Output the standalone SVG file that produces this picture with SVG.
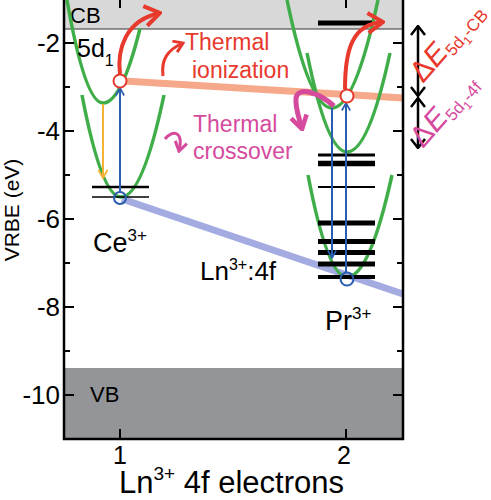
<svg xmlns="http://www.w3.org/2000/svg" width="491" height="500" viewBox="0 0 491 500">
<style>
text{font-family:"Liberation Sans",Arial,Helvetica,sans-serif;fill:#000}
.g{fill:none;stroke:#3fae49;stroke-width:3.5;stroke-linecap:butt}
.lv{stroke:#000}
.ax{stroke:#000;stroke-width:2.5;fill:none}
.tk{stroke:#000;stroke-width:2}
.bl{stroke:#2a5db0;stroke-width:2;fill:none}
.rd{fill:#e8392d}
.mg{fill:#d64a9e}
.tl{font-size:26px;text-anchor:end}
</style>
<defs>
<marker id="mBlue" viewBox="0 0 12 12" refX="11" refY="6" markerWidth="10" markerHeight="10" orient="auto" markerUnits="userSpaceOnUse"><path d="M2,1 L11,6 L2,11" fill="none" stroke="#2a5db0" stroke-width="2"/></marker>
<marker id="mYel" viewBox="0 0 12 12" refX="11" refY="6" markerWidth="11" markerHeight="11" orient="auto" markerUnits="userSpaceOnUse"><path d="M2,1 L11,6 L2,11" fill="none" stroke="#f5b335" stroke-width="2"/></marker>
<marker id="mRed" viewBox="0 0 20 24" refX="18" refY="12" markerWidth="20" markerHeight="24" orient="auto" markerUnits="userSpaceOnUse"><path d="M3,2 L18,12 L3,22" fill="none" stroke="#e8392d" stroke-width="4"/></marker>
<marker id="mRedS" viewBox="0 0 14 14" refX="12" refY="7" markerWidth="14" markerHeight="14" orient="auto" markerUnits="userSpaceOnUse"><path d="M3,1 L12,7 L3,13" fill="none" stroke="#e8392d" stroke-width="3"/></marker>
<marker id="mMag" viewBox="0 0 18 20" refX="16" refY="10" markerWidth="18" markerHeight="20" orient="auto" markerUnits="userSpaceOnUse"><path d="M3,2 L16,10 L3,18" fill="none" stroke="#d64a9e" stroke-width="4.5"/></marker>
<marker id="mMagS" viewBox="0 0 14 14" refX="12" refY="7" markerWidth="14" markerHeight="14" orient="auto" markerUnits="userSpaceOnUse"><path d="M3,1 L12,7 L3,13" fill="none" stroke="#d64a9e" stroke-width="3"/></marker>
<marker id="mBlk" viewBox="0 0 12 16" refX="11" refY="8" markerWidth="12" markerHeight="16" orient="auto-start-reverse" markerUnits="userSpaceOnUse"><path d="M2,1 L11,8 L2,15" fill="none" stroke="#000" stroke-width="2.5"/></marker>
</defs>

<g id="bands">
<rect x="64" y="0" width="339" height="29" fill="#d8d8d8"/>
<line x1="64" y1="29" x2="403" y2="29" stroke="#333" stroke-width="1.2"/>
<rect x="64" y="368" width="339" height="71" fill="#939598"/>
<text x="70" y="23" font-size="22">CB</text>
<text x="90" y="402" font-size="22">VB</text>
</g>

<g id="trend-lines">
<line x1="124" y1="81" x2="403" y2="98" stroke="#f6a98a" stroke-width="7"/>
<line x1="122" y1="199" x2="403" y2="294" stroke="#a3abe0" stroke-width="7"/>
</g>

<g id="ce">
<path class="g" d="M67,0 Q85,103 103,103 Q121.5,103 140,28.5"/>
<path class="g" d="M82,95 Q101.5,197 121,197 Q142.5,197 164,95"/>
<line class="lv" x1="92" y1="187" x2="149" y2="187" stroke-width="2.5"/>
<line class="lv" x1="92" y1="197" x2="149" y2="197" stroke-width="1.5"/>
<text x="77" y="57" font-size="25">5d<tspan font-size="16" dy="9">1</tspan></text>
<text x="93" y="252" font-size="27">Ce<tspan font-size="17" dy="-11">3+</tspan></text>
</g>

<g id="pr">
<path class="g" d="M287,0 Q309.5,108 332,108 Q355,108 378,0"/>
<path class="g" d="M307,53 Q327,152 347,152 Q368.5,152 390,53"/>
<path class="g" d="M308,175 Q327.5,277 347,277 Q369.5,277 392,175"/>
<line class="lv" x1="318" y1="23" x2="372" y2="23" stroke-width="5"/>
<line class="lv" x1="318" y1="155" x2="375" y2="155" stroke-width="3"/>
<line class="lv" x1="318" y1="163.5" x2="375" y2="163.5" stroke-width="5.5"/>
<line class="lv" x1="318" y1="187" x2="375" y2="187" stroke-width="2"/>
<line class="lv" x1="318" y1="223" x2="375" y2="223" stroke-width="5"/>
<line class="lv" x1="318" y1="241.5" x2="375" y2="241.5" stroke-width="5"/>
<line class="lv" x1="318" y1="252.5" x2="375" y2="252.5" stroke-width="5"/>
<line class="lv" x1="318" y1="264" x2="375" y2="264" stroke-width="5"/>
<line class="lv" x1="318" y1="277" x2="375" y2="277" stroke-width="4"/>
<text x="325" y="330" font-size="27">Pr<tspan font-size="17" dy="-11">3+</tspan></text>
<text x="200" y="280" font-size="26">Ln<tspan font-size="16" dy="-10">3+</tspan><tspan dy="10">:4f</tspan></text>
</g>

<g id="connectors">
<line class="bl" x1="120" y1="192" x2="120" y2="88" marker-end="url(#mBlue)"/>
<line class="bl" x1="346" y1="273" x2="346" y2="103" marker-end="url(#mBlue)"/>
<line class="bl" x1="332" y1="108" x2="332" y2="258" marker-end="url(#mBlue)"/>
<line x1="103" y1="104" x2="103" y2="178" stroke="#f5b335" stroke-width="2" marker-end="url(#mYel)"/>
<path d="M120,74 C117,50 125,20 160,13" fill="none" stroke="#e8392d" stroke-width="4" marker-end="url(#mRed)"/>
<path d="M345,89 C345,50 352,24 383,22" fill="none" stroke="#e8392d" stroke-width="4" marker-end="url(#mRed)"/>
<path d="M163,76 C161,60 167,50 183,43" fill="none" stroke="#e8392d" stroke-width="3" marker-end="url(#mRedS)"/>
<path d="M334,106 C318,92 298,86 296,98 C295,108 299,117 302,129" fill="none" stroke="#d64a9e" stroke-width="5" marker-end="url(#mMag)"/>
<path d="M165,139 C172,130 184,130 179,151" fill="none" stroke="#d64a9e" stroke-width="3" marker-end="url(#mMagS)"/>
<line x1="418" y1="26" x2="418" y2="96" stroke="#000" stroke-width="2.5" marker-start="url(#mBlk)" marker-end="url(#mBlk)"/>
<line x1="418" y1="98" x2="418" y2="148" stroke="#000" stroke-width="2.5" marker-start="url(#mBlk)" marker-end="url(#mBlk)"/>
</g>

<g id="states">
<circle cx="120" cy="81" r="6.5" fill="#fff" stroke="#e8392d" stroke-width="2"/>
<circle cx="347" cy="96" r="6.5" fill="#fff" stroke="#e8392d" stroke-width="2"/>
<circle cx="120" cy="198" r="6" fill="none" stroke="#2a5db0" stroke-width="2"/>
<circle cx="347" cy="279" r="6.5" fill="none" stroke="#2a5db0" stroke-width="2"/>
</g>

<g id="labels">
<text class="rd" x="185" y="50" font-size="23">Thermal</text>
<text class="rd" x="192" y="78" font-size="23">ionization</text>
<text class="mg" x="193" y="132" font-size="23">Thermal</text>
<text class="mg" x="193" y="159" font-size="23">crossover</text>
<text class="rd" transform="translate(423,84) rotate(-49)" font-size="30">Δ<tspan font-style="italic">E</tspan><tspan font-size="17" dy="5">5d</tspan><tspan font-size="12" dy="4">1</tspan><tspan font-size="17" dy="-4">-CB</tspan></text>
<text class="mg" transform="translate(423,149) rotate(-49)" font-size="30">Δ<tspan font-style="italic">E</tspan><tspan font-size="17" dy="5">5d</tspan><tspan font-size="12" dy="4">1</tspan><tspan font-size="17" dy="-4">-4f</tspan></text>
</g>

<g id="axes">
<path class="ax" d="M64,-2 V439 H403 V-2"/>
<path class="tk" d="M64,43 h10 M64,131 h10 M64,219 h10 M64,307 h10 M64,395 h10 M64,87 h6 M64,175 h6 M64,263 h6 M64,351 h6 M403,43 h-10 M403,131 h-10 M403,219 h-10 M403,307 h-10 M403,395 h-10 M403,87 h-6 M403,175 h-6 M403,263 h-6 M403,351 h-6 M120,439 v-10 M346,439 v-10 M120,0 v8 M346,0 v8"/>
<text class="tl" x="60" y="52">-2</text>
<text class="tl" x="60" y="140">-4</text>
<text class="tl" x="60" y="228">-6</text>
<text class="tl" x="60" y="316">-8</text>
<text class="tl" x="60" y="404">-10</text>
<text x="120" y="464" font-size="25" text-anchor="middle">1</text>
<text x="344" y="464" font-size="25" text-anchor="middle">2</text>
<text x="119" y="493" font-size="31">Ln<tspan font-size="19" dy="-13">3+</tspan><tspan dy="13"> 4f electrons</tspan></text>
<text transform="translate(19,210) rotate(-90)" font-size="21" text-anchor="middle">VRBE (eV)</text>
</g>
</svg>
